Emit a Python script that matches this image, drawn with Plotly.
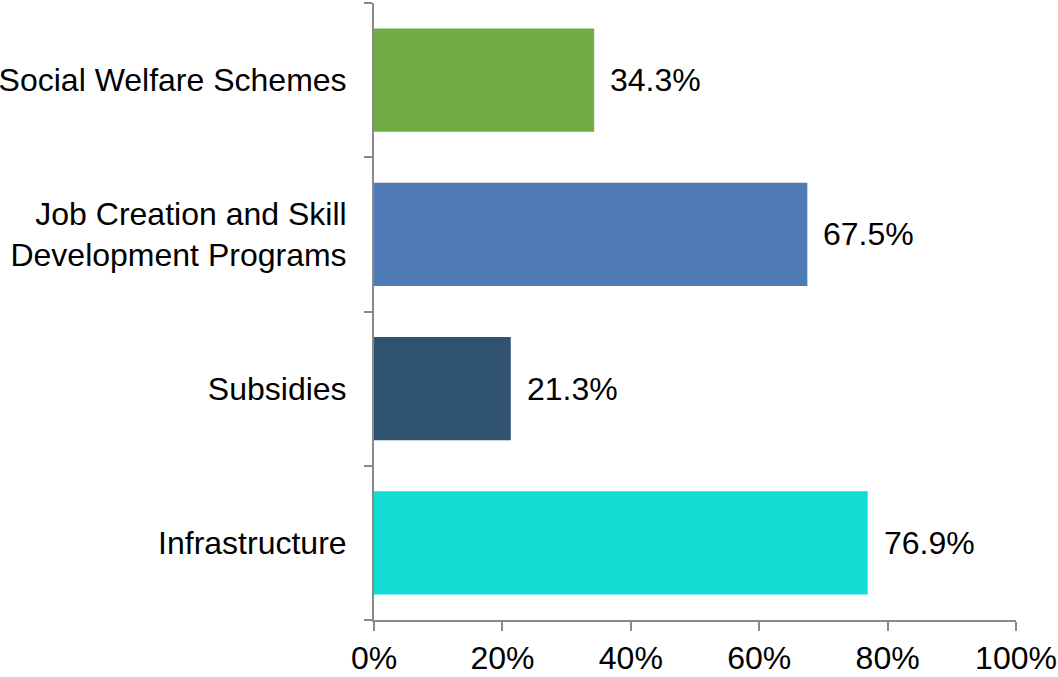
import plotly.graph_objects as go

# Share of respondents by type of government programme
categories = [
    "Infrastructure",
    "Subsidies",
    "Job Creation and Skill<br>Development Programs",
    "Social Welfare Schemes",
]
values = [76.9, 21.3, 67.5, 34.3]
bar_colors = ["#12DDD4", "#2F5270", "#4F7CB7", "#70AD47"]
x_ticks = [0, 20, 40, 60, 80, 100]

FONT = "Arial, 'Liberation Sans', sans-serif"
FONT_SIZE = 32
AXIS_GREY = "#898989"

fig = go.Figure(
    go.Bar(
        x=values,
        y=categories,
        orientation="h",
        marker=dict(color=bar_colors, line=dict(width=0)),
        width=0.67,
        hoverinfo="skip",
    )
)

# value labels just beyond the end of each bar
for cat, val in zip(categories, values):
    fig.add_annotation(
        x=val, y=cat, text=f"{val:.1f}%",
        xanchor="left", yanchor="middle", xshift=14,
        showarrow=False, font=dict(family=FONT, size=FONT_SIZE, color="#000000"),
    )

fig.update_layout(
    width=1058, height=677,
    margin=dict(l=374, r=42, t=3, b=57, pad=0, autoexpand=False),
    plot_bgcolor="white", paper_bgcolor="white",
    showlegend=False,
    font=dict(family=FONT, size=FONT_SIZE, color="#000000"),
)

fig.update_xaxes(
    range=[0, 100],
    tickvals=x_ticks,
    ticktext=[f"{t}%" for t in x_ticks],
    showgrid=False, zeroline=False, automargin=False,
    showline=True, linecolor=AXIS_GREY, linewidth=2,
    ticks="outside", ticklen=9, tickwidth=2, tickcolor=AXIS_GREY,
    tickfont=dict(family=FONT, size=FONT_SIZE, color="#000000"),
)

fig.update_yaxes(
    type="category",
    categoryorder="array", categoryarray=categories,
    range=[-0.5, 3.5],
    showgrid=False, zeroline=False, automargin=False,
    showline=True, linecolor=AXIS_GREY, linewidth=2,
    ticks="outside", tickson="boundaries", ticklen=8, tickwidth=2, tickcolor=AXIS_GREY,
    tickfont=dict(family=FONT, size=FONT_SIZE, color="#000000"),
    ticklabelstandoff=19,
)

fig.write_html("out.html")
